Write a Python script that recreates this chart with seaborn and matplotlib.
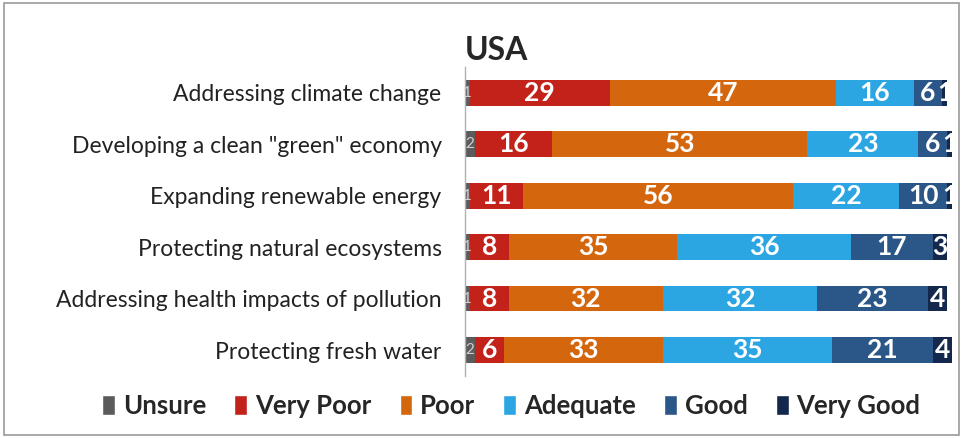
import numpy as np
import pandas as pd
import matplotlib
matplotlib.use("Agg")
import matplotlib.pyplot as plt
from matplotlib.patches import Rectangle, Patch
import seaborn as sns

# Data (percent of respondents)
categories = ["Addressing climate change",
              'Developing a clean "green" economy',
              "Expanding renewable energy",
              "Protecting natural ecosystems",
              "Addressing health impacts of pollution",
              "Protecting fresh water"]
ratings = ["Unsure", "Very Poor", "Poor", "Adequate", "Good", "Very Good"]
unsure = [1, 2, 1, 1, 1, 2]
very_poor = [29, 16, 11, 8, 8, 6]
poor = [47, 53, 56, 35, 32, 33]
adequate = [16, 23, 22, 36, 32, 35]
good = [6, 6, 10, 17, 23, 21]
very_good = [1, 1, 1, 3, 4, 4]
colors = ["#5b5b5b", "#c3221a", "#d4670e", "#2ba6e2", "#2b5688", "#13284c"]

df = pd.DataFrame({"Category": categories, "Unsure": unsure,
                   "Very Poor": very_poor, "Poor": poor,
                   "Adequate": adequate, "Good": good,
                   "Very Good": very_good})
cum = df[ratings].cumsum(axis=1)

sns.set_style("white")
plt.rcParams["font.family"] = ["Lato", "DejaVu Sans"]

fig = plt.figure(figsize=(9.63, 4.38), dpi=100)
ax = fig.add_axes([0.483, 0.142, 0.5057, 0.705])

# stacked bars: draw cumulative totals from the right-most rating down
for r, c in zip(reversed(ratings), reversed(colors)):
    sns.barplot(x=cum[r], y=df["Category"], color=c, orient="h",
                width=0.5, saturation=1, linewidth=0, ax=ax)

# value labels in the middle of each segment
for i in range(len(categories)):
    for r in ratings:
        v = df.loc[i, r]
        mid = cum.loc[i, r] - v / 2
        if r == "Unsure":
            ax.text(mid, i, str(v), ha="center", va="center",
                    color="#d0d0d0", fontsize=11)
        else:
            ax.text(mid, i, str(v), ha="center", va="center",
                    color="white", fontsize=19, fontweight="bold")

ax.set_xlim(0, 101)
ax.set_ylim(5.5, -0.5)
ax.set_xlabel("")
ax.set_ylabel("")
ax.set_xticks([])
ax.tick_params(axis="y", length=0, pad=17, labelsize=16.5, labelcolor="#222222")
for s in ["top", "right", "bottom"]:
    ax.spines[s].set_visible(False)
ax.spines["left"].set_color("#b0b0b0")
ax.spines["left"].set_linewidth(1)
ax.set_title("USA", loc="left", fontsize=23, fontweight="bold", pad=5)

handles = [Patch(facecolor=c, label=r) for r, c in zip(ratings, colors)]
fig.legend(handles=handles, loc="center", bbox_to_anchor=(0.531, 0.073),
           ncol=6, frameon=False, prop={"size": 18.5, "weight": "bold"},
           handlelength=0.5, handleheight=0.8, handletextpad=0.3,
           columnspacing=1.1)

fig.patches.append(Rectangle((0.004, 0.006), 0.992, 0.988,
                             transform=fig.transFigure, fill=False,
                             edgecolor="#9a9a9a", linewidth=1.2))

fig.savefig("out.png", dpi=100)
